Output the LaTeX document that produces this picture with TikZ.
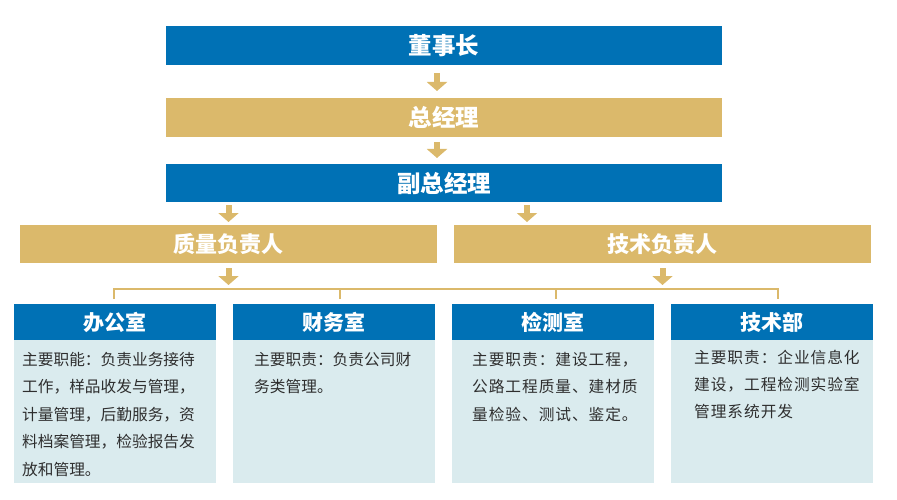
\documentclass[tikz,border=0pt]{standalone}
\usepackage{fontspec}
\setmainfont{Noto Sans CJK SC}
\newfontfamily\cjkls[LetterSpace=6]{Noto Sans CJK SC}
\usetikzlibrary{arrows.meta}
\definecolor{cblue}{HTML}{0071B5}
\definecolor{cgold}{HTML}{DBB96B}
\definecolor{cpale}{HTML}{DAEBEE}
\definecolor{ctext}{HTML}{2E2E2E}
\tikzset{
  topbar/.style={anchor=north west, inner sep=0pt, outer sep=0pt, text=white,
    font=\fontsize{23.5}{23.5}\selectfont\bfseries, minimum width=556pt},
  bluebar/.style={topbar, fill=cblue},
  goldbar/.style={topbar, fill=cgold},
  midbar/.style={anchor=north west, inner sep=0pt, outer sep=0pt, text=white, fill=cgold,
    font=\fontsize{22}{22}\selectfont\bfseries, minimum width=417pt, minimum height=38pt},
  head/.style={anchor=north west, inner sep=0pt, outer sep=0pt, text=white, fill=cblue,
    font=\fontsize{21}{21}\selectfont\bfseries, minimum width=202pt, minimum height=36pt},
  body/.style={anchor=north west, inner sep=0pt, outer sep=0pt, fill=cpale,
    minimum width=202pt, minimum height=143pt},
  desc/.style={anchor=north west, inner sep=0pt, align=left, text=ctext,
    font=\fontsize{15.7}{27.5}\selectfont},
  garrow/.style={draw=cgold, line width=6pt, -{Triangle[width=20pt,length=9pt]}},
  busline/.style={draw=cgold, line width=2pt}
}
\begin{document}
\begin{tikzpicture}[x=1pt,y=-1pt]
\useasboundingbox (0,0) rectangle (897,500);
% top chain
\node[bluebar, minimum height=39pt] (dsz) at (166,26) {董事长};
\node[goldbar, minimum height=39pt] (zjl) at (166,98) {总经理};
\node[bluebar, minimum height=38pt] (fzjl) at (166,164) {副总经理};
\node[midbar] (zl) at (20,225) {质量负责人};
\node[midbar] (js) at (454,225) {技术负责人};
\draw[garrow, shorten <=8pt, shorten >=7pt] ([xshift=-7pt]dsz.south) -- ([xshift=-7pt]zjl.north);
\draw[garrow, shorten <=5pt, shorten >=6pt] ([xshift=-7pt]zjl.south) -- ([xshift=-7pt]fzjl.north);
\draw[garrow, shorten <=3pt, shorten >=3pt] (zl.north |- fzjl.south) -- (zl.north);
\draw[garrow, shorten <=3pt, shorten >=3pt] ([xshift=-135.5pt]js.north |- fzjl.south) -- ([xshift=-135.5pt]js.north);
% departments
\node[head] (bgs) at (14,304) {办公室};
\node[head] (cws) at (233,304) {财务室};
\node[head] (jcs) at (452,304) {检测室};
\node[head] (jsb) at (671,304) {技术部};
\node[body] (bgsb) at (14,340) {};
\node[body] (cwsb) at (233,340) {};
\node[body] (jcsb) at (452,340) {};
\node[body] (jsbb) at (671,340) {};
\node[desc] (bgst) at (22,352) {主要职能：负责业务接待\\工作，样品收发与管理，\\计量管理，后勤服务，资\\料档案管理，检验报告发\\放和管理。};
\node[desc] (cwst) at (254,352) {主要职责：负责公司财\\务类管理。};
\node[desc, font=\fontsize{15.7}{27.5}\selectfont\cjkls] (jcst) at (472,352) {主要职责：建设工程，\\公路工程质量、建材质\\量检验、测试、鉴定。};
\node[desc, font=\fontsize{15.7}{27}\selectfont\cjkls] (jsbt) at (694,350) {主要职责：企业信息化\\建设，工程检测实验室\\管理系统开发};
% bus
\path ([xshift=-1pt]bgs.north) ++(0,-5) coordinate (t1) ++(0,-10) coordinate (h1);
\path ([xshift=6pt]cws.north) ++(0,-5) coordinate (t2) ++(0,-10) coordinate (h2);
\path ([xshift=3pt]jcs.north) ++(0,-5) coordinate (t3) ++(0,-10) coordinate (h3);
\path ([xshift=6pt]jsb.north) ++(0,-5) coordinate (t4) ++(0,-10) coordinate (h4);
\draw[busline] (t1) -- (h1) -- (h4) -- (t4);
\draw[busline] (t2) -- (h2);
\draw[busline] (t3) -- (h3);
\draw[garrow, shorten <=5pt, shorten >=4pt] (zl.south) -- (zl.south |- h1);
\draw[garrow, shorten <=5pt, shorten >=4pt] (js.south) -- (js.south |- h1);
\end{tikzpicture}
\end{document}
